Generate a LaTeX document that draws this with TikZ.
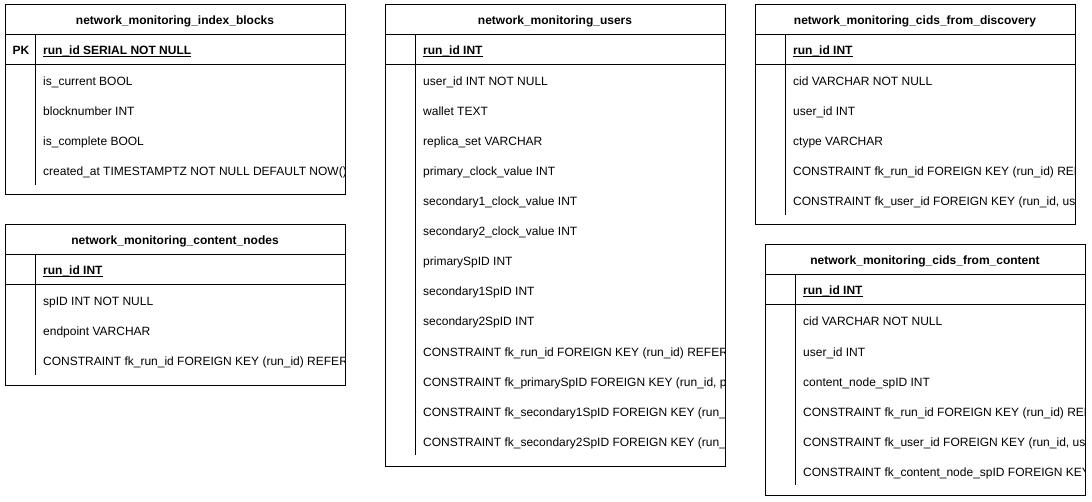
\documentclass[tikz,border=0pt]{standalone}
\usepackage{fontspec}
\setmainfont{Liberation Sans}
\newcommand\keyul[1]{\setbox0\hbox{#1}\rlap{\rule[-2pt]{\wd0}{0.9pt}}\box0}
\begin{document}
\begin{tikzpicture}[x=1pt,y=-1pt,
  tline/.style={draw=black,line width=1pt},
  ttitle/.style={anchor=base,inner sep=0pt,font=\bfseries\fontsize{12}{14}\selectfont},
  tfield/.style={anchor=base west,inner sep=0pt,font=\fontsize{12}{14}\selectfont},
  tkey/.style={anchor=base west,inner sep=0pt,font=\bfseries\fontsize{12}{14}\selectfont},
  tpk/.style={anchor=base,inner sep=0pt,font=\bfseries\fontsize{12}{14}\selectfont}]
\useasboundingbox (0,0) rectangle (1092,502);
\fill[white] (0,0) rectangle (1092,502);

% ---------- table 1: index_blocks ----------
\begin{scope}
\clip (5,5) rectangle (345,195);
\node[ttitle] (ibT) at (175,25) {network\_monitoring\_index\_blocks};
\node[tpk] (ibPK) at (21,55) {PK};
\node[tkey] (ibK) at (43,55) {\keyul{run\_id SERIAL NOT NULL}};
\foreach \t [count=\i] in {is\_current BOOL, blocknumber INT, is\_complete BOOL, created\_at TIMESTAMPTZ NOT NULL DEFAULT NOW()}
  \node[tfield] (ibR\i) at (43,56+30*\i) {\t};
\end{scope}
\draw[tline] (5,5) rectangle (345,195);
\draw[tline] (5,35) -- (345,35);
\draw[tline] (5,65) -- (345,65);
\draw[tline] (35,35) -- (35,185);

% ---------- table 2: content_nodes ----------
\begin{scope}
\clip (5,225) rectangle (345,385);
\node[ttitle] (cnT) at (175,245) {network\_monitoring\_content\_nodes};
\node[tkey] (cnK) at (43,275) {\keyul{run\_id INT}};
\foreach \t [count=\i] in {spID INT NOT NULL, endpoint VARCHAR, {CONSTRAINT fk\_run\_id FOREIGN KEY (run\_id) REFER}}
  \node[tfield] (cnR\i) at (43,276+30*\i) {\t};
\end{scope}
\draw[tline] (5,225) rectangle (345,385);
\draw[tline] (5,255) -- (345,255);
\draw[tline] (5,285) -- (345,285);
\draw[tline] (35,255) -- (35,375);

% ---------- table 3: users ----------
\begin{scope}
\clip (385,5) rectangle (725,466);
\node[ttitle] (usT) at (555,25) {network\_monitoring\_users};
\node[tkey] (usK) at (423,55) {\keyul{run\_id INT}};
\foreach \t [count=\i] in {user\_id INT NOT NULL, wallet TEXT, replica\_set VARCHAR, primary\_clock\_value INT, secondary1\_clock\_value INT, secondary2\_clock\_value INT, primarySpID INT, secondary1SpID INT, secondary2SpID INT,
  {CONSTRAINT fk\_run\_id FOREIGN KEY (run\_id) REFER},
  {CONSTRAINT fk\_primarySpID FOREIGN KEY (run\_id, p},
  {CONSTRAINT fk\_secondary1SpID FOREIGN KEY (run\_},
  {CONSTRAINT fk\_secondary2SpID FOREIGN KEY (run\_}}
  \node[tfield] (usR\i) at (423,56+30*\i) {\t};
\end{scope}
\draw[tline] (385,5) rectangle (725,466);
\draw[tline] (385,35) -- (725,35);
\draw[tline] (385,65) -- (725,65);
\draw[tline] (415,35) -- (415,455);

% ---------- table 4: cids_from_discovery ----------
\begin{scope}
\clip (755,5) rectangle (1075,225);
\node[ttitle] (cdT) at (915,25) {network\_monitoring\_cids\_from\_discovery};
\node[tkey] (cdK) at (793,55) {\keyul{run\_id INT}};
\foreach \t [count=\i] in {cid VARCHAR NOT NULL, user\_id INT, ctype VARCHAR,
  {CONSTRAINT fk\_run\_id FOREIGN KEY (run\_id) REF},
  {CONSTRAINT fk\_user\_id FOREIGN KEY (run\_id, us}}
  \node[tfield] (cdR\i) at (793,56+30*\i) {\t};
\end{scope}
\draw[tline] (755,5) rectangle (1075,225);
\draw[tline] (755,35) -- (1075,35);
\draw[tline] (755,65) -- (1075,65);
\draw[tline] (785,35) -- (785,215);

% ---------- table 5: cids_from_content ----------
\begin{scope}
\clip (765,245) rectangle (1085,495);
\node[ttitle] (ccT) at (925,265) {network\_monitoring\_cids\_from\_content};
\node[tkey] (ccK) at (803,295) {\keyul{run\_id INT}};
\foreach \t [count=\i] in {cid VARCHAR NOT NULL, user\_id INT, content\_node\_spID INT,
  {CONSTRAINT fk\_run\_id FOREIGN KEY (run\_id) REF},
  {CONSTRAINT fk\_user\_id FOREIGN KEY (run\_id, us},
  {CONSTRAINT fk\_content\_node\_spID FOREIGN KEY}}
  \node[tfield] (ccR\i) at (803,296+30*\i) {\t};
\end{scope}
\draw[tline] (765,245) rectangle (1085,495);
\draw[tline] (765,275) -- (1085,275);
\draw[tline] (765,305) -- (1085,305);
\draw[tline] (795,275) -- (795,485);
\end{tikzpicture}
\end{document}
